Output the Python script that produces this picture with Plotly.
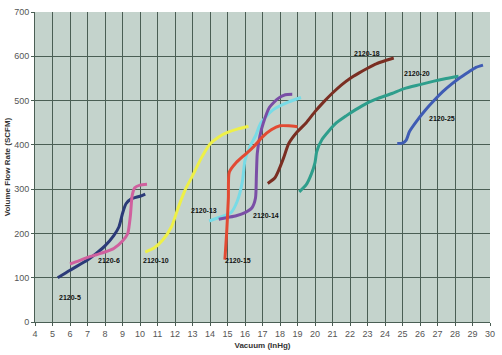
import plotly.graph_objects as go

# ---- data ----
s5_x = [5.3, 6.0, 7.0, 7.5, 8.0, 8.5, 8.8, 9.0, 9.2, 9.5, 10.0, 10.3]
s5_y = [100, 117, 140, 155, 172, 195, 215, 245, 267, 278, 284, 289]

s6_x = [6.0, 6.5, 7.0, 7.5, 8.0, 8.5, 9.0, 9.3, 9.45, 9.55, 9.7, 10.0, 10.4]
s6_y = [131, 138, 146, 152, 158, 166, 183, 200, 240, 285, 303, 309, 311]

s10_x = [10.3, 10.8, 11.3, 11.8, 12.2, 12.6, 13.0, 13.5, 14.0, 14.5, 15.0, 15.6, 16.2]
s10_y = [158, 167, 185, 215, 260, 300, 330, 370, 402, 418, 428, 436, 442]

s13_x = [13.95, 14.5, 15.2, 15.55, 15.85, 16.0, 16.3, 16.6, 16.9, 17.6, 18.5, 19.2]
s13_y = [228, 236, 247, 272, 317, 365, 398, 420, 449, 479, 497, 507]

s14_x = [14.5, 15.0, 15.5, 16.0, 16.4, 16.6, 16.65, 16.7, 16.85, 17.05, 17.4, 17.9, 18.3, 18.7]
s14_y = [232, 236, 240, 247, 258, 280, 330, 380, 420, 450, 485, 505, 513, 514]

s15_x = [14.85, 14.95, 15.05, 15.1, 15.5, 16.0, 16.5, 17.0, 17.5, 18.0, 18.5, 19.0]
s15_y = [141, 200, 280, 338, 360, 378, 396, 418, 434, 443, 443, 441]

s18_x = [17.3, 17.7, 17.95, 18.2, 18.5, 19.0, 19.5, 20.0, 20.5, 21.0, 21.5, 22.0, 22.5, 23.0, 23.5, 24.0, 24.5]
s18_y = [313, 325, 345, 370, 403, 430, 450, 475, 497, 517, 535, 550, 562, 573, 583, 590, 596]

s20_x = [19.1, 19.5, 19.8, 20.0, 20.1, 20.4, 20.8, 21.2, 21.8, 22.3, 23.0, 23.6, 24.4, 25.1, 26.0, 26.8, 27.5, 28.2]
s20_y = [294, 310, 335, 360, 385, 412, 432, 449, 466, 479, 495, 505, 516, 527, 536, 544, 550, 555]

s25_x = [24.7, 25.0, 25.2, 25.4, 25.8, 26.3, 26.8, 27.3, 27.8, 28.3, 28.8, 29.2, 29.6]
s25_y = [403, 404, 410, 430, 453, 478, 500, 520, 537, 552, 565, 575, 580]

series_names = ["2120-5", "2120-6", "2120-10", "2120-13", "2120-14",
                "2120-15", "2120-18", "2120-20", "2120-25"]
series_x = [s5_x, s6_x, s10_x, s13_x, s14_x, s15_x, s18_x, s20_x, s25_x]
series_y = [s5_y, s6_y, s10_y, s13_y, s14_y, s15_y, s18_y, s20_y, s25_y]
series_colors = ["#2b3a78", "#d0609e", "#eef048", "#78dbe6", "#7a4ea6",
                 "#e24a33", "#7a2e22", "#2e9e8c", "#3f5cb4"]

label_x = [6.0, 8.25, 10.9, 13.65, 17.2, 15.6, 22.95, 25.8, 27.25]
label_y = [55, 138, 138, 252, 241, 138, 606, 561, 459]

x_ticks = list(range(4, 31))
y_ticks = list(range(0, 701, 100))

fig = go.Figure()
for name, xs, ys, col in zip(series_names, series_x, series_y, series_colors):
    fig.add_trace(go.Scatter(x=xs, y=ys, mode="lines", name=name,
                             line=dict(color=col, width=3, shape="spline", smoothing=0.6)))

for name, lx, ly in zip(series_names, label_x, label_y):
    fig.add_annotation(x=lx, y=ly, text="<b>" + name + "</b>", showarrow=False,
                       font=dict(size=7, color="#111111", family="Arial, Liberation Sans"))

grid_col = "#4a5e54"
fig.update_layout(
    width=502, height=355,
    margin=dict(l=32, r=8, t=7, b=32),
    paper_bgcolor="white",
    plot_bgcolor="#c4d3cc",
    showlegend=False,
    font=dict(family="Arial, Liberation Sans", color="#555555", size=9),
)
fig.update_xaxes(range=[4, 30], tickvals=x_ticks, ticktext=[str(t) for t in x_ticks],
                 showgrid=True, gridcolor=grid_col, gridwidth=1,
                 showline=True, linecolor=grid_col, linewidth=1, mirror=False,
                 ticks="outside", ticklen=3, tickcolor=grid_col, zeroline=False,
                 title=dict(text="<b>Vacuum (InHg)</b>", font=dict(size=8, color="#333333"), standoff=4),
                 tickfont=dict(size=9, color="#555555"))
fig.update_yaxes(range=[0, 700], tickvals=y_ticks, ticktext=[str(t) for t in y_ticks],
                 showgrid=True, gridcolor=grid_col, gridwidth=1,
                 showline=True, linecolor=grid_col, linewidth=1,
                 ticks="outside", ticklen=3, tickcolor=grid_col, zeroline=False,
                 title=dict(text="<b>Volume Flow Rate (SCFM)</b>", font=dict(size=8, color="#333333"), standoff=2),
                 tickfont=dict(size=9, color="#555555"))

fig.write_html("out.html")
